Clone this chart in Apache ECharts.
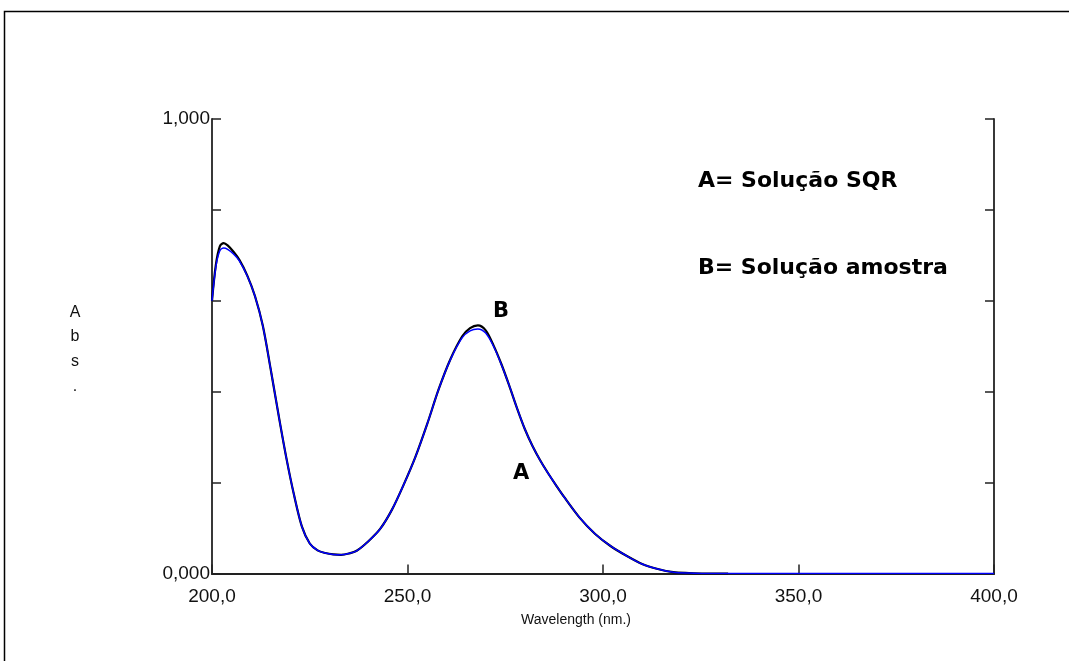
<!DOCTYPE html>
<html>
<head>
<meta charset="utf-8">
<script src="https://cdn.jsdelivr.net/npm/echarts@6/dist/echarts.min.js"></script>
<style>html,body{margin:0;padding:0;background:#fff;}#c{width:1069px;height:661px;}</style>
</head>
<body>
<div id="c"></div>
<script>
// Wavelength (nm)
const wavelengths = [200, 201, 202, 203, 204, 205.5, 207, 209, 211, 213, 215, 217, 219, 221, 223, 225, 227, 229, 231, 233, 235, 237, 240, 243, 246, 249, 252, 255, 258, 261, 264, 266, 268, 270, 272, 274, 276, 278, 280, 282, 284, 286, 288, 290, 294, 298, 302, 306, 310, 314, 318, 322, 326, 332, 340, 360, 380, 400];
// A = Solução SQR (blue)
const absA = [0.600, 0.675, 0.710, 0.716, 0.713, 0.703, 0.688, 0.655, 0.610, 0.545, 0.450, 0.350, 0.255, 0.172, 0.103, 0.066, 0.051, 0.045, 0.042, 0.041, 0.044, 0.050, 0.071, 0.098, 0.140, 0.195, 0.256, 0.328, 0.406, 0.471, 0.519, 0.534, 0.538, 0.529, 0.500, 0.460, 0.414, 0.364, 0.318, 0.280, 0.248, 0.220, 0.194, 0.169, 0.123, 0.087, 0.060, 0.039, 0.021, 0.010, 0.003, 0.001, 0, 0, 0, 0, 0, 0];
// B = Solução amostra (black), recorded up to 332 nm
const absB = [0.600, 0.680, 0.720, 0.727, 0.722, 0.708, 0.690, 0.656, 0.610, 0.545, 0.450, 0.350, 0.255, 0.172, 0.103, 0.066, 0.051, 0.045, 0.042, 0.041, 0.044, 0.050, 0.071, 0.098, 0.140, 0.195, 0.256, 0.328, 0.406, 0.472, 0.522, 0.540, 0.546, 0.535, 0.502, 0.461, 0.414, 0.364, 0.318, 0.280, 0.248, 0.220, 0.194, 0.169, 0.123, 0.087, 0.060, 0.039, 0.021, 0.010, 0.003, 0.001, 0, 0];
const xTicks = [200, 250, 300, 350, 400];
const yTickLabels = {0: '0,000', 1: '1,000'};
const legendLines = ['A= Solução SQR', 'B= Solução amostra'];
const curveLabels = ['A', 'B'];
const yName = ['A', 'b', 's', '.'];
const xName = 'Wavelength (nm.)';

const seriesA = wavelengths.map((w, i) => [w, absA[i]]);
const seriesB = absB.map((v, i) => [wavelengths[i], v]);

const chart = echarts.init(document.getElementById('c'), null, {renderer: 'canvas'});
const thinFont = 'Liberation Sans';
const boldFont = 'DejaVu Sans';
const axisCol = '#222';

const option = {
  animation: false,
  backgroundColor: '#fff',
  grid: {left: 212, right: 75, top: 119, bottom: 87.5, containLabel: false},
  xAxis: [{
    type: 'value', min: 200, max: 400, interval: 50,
    axisLine: {show: true, onZero: false, lineStyle: {color: axisCol, width: 1.8}},
    axisTick: {show: true, inside: true, length: 9, lineStyle: {color: axisCol, width: 1.5}},
    axisLabel: {margin: 14, fontFamily: thinFont, fontSize: 19, color: '#111',
      formatter: v => xTicks.indexOf(v) >= 0 ? v.toFixed(1).replace('.', ',') : ''},
    splitLine: {show: false}
  }, {
    type: 'value', min: 200, max: 400, position: 'top',
    axisLine: {show: true, lineStyle: {color: axisCol, width: 1.8}},
    axisTick: {show: false}, axisLabel: {show: false}, splitLine: {show: false}
  }],
  yAxis: [{
    type: 'value', min: 0, max: 1, interval: 0.2,
    axisLine: {show: true, onZero: false, lineStyle: {color: axisCol, width: 1.8}},
    axisTick: {show: true, inside: true, length: 9, lineStyle: {color: axisCol, width: 1.5}},
    axisLabel: {margin: 2, fontFamily: thinFont, fontSize: 19, color: '#111', padding: [0, 0, 5, 0],
      formatter: v => (yTickLabels[v] !== undefined ? yTickLabels[v] : '')},
    splitLine: {show: false}
  }, {
    type: 'value', min: 0, max: 1, interval: 0.2, position: 'right',
    axisLine: {show: true, lineStyle: {color: axisCol, width: 1.8}},
    axisTick: {show: true, inside: true, length: 9, lineStyle: {color: axisCol, width: 1.5}},
    axisLabel: {show: false}, splitLine: {show: false}
  }],
  series: [{
    name: 'B', type: 'line', data: seriesB, smooth: 0.3, showSymbol: false,
    lineStyle: {color: '#000', width: 2.2}, z: 2
  }, {
    name: 'A', type: 'line', data: seriesA, smooth: 0.3, showSymbol: false,
    lineStyle: {color: '#0000ff', width: 1.5}, z: 3
  }],
  graphic: [
    {type: 'rect', shape: {x: 4.5, y: 11.5, width: 1100, height: 700}, style: {fill: 'none', stroke: '#000', lineWidth: 1.5}, silent: true},
    {type: 'text', left: 698, top: 183 - 13, style: {text: legendLines[0], font: 'bold 22px "' + boldFont + '"', fill: '#000'}},
    {type: 'text', left: 698, top: 270 - 13, style: {text: legendLines[1], font: 'bold 22px "' + boldFont + '"', fill: '#000'}},
    {type: 'text', left: 513, top: 476 - 13, style: {text: curveLabels[0], font: 'bold 21px "' + boldFont + '"', fill: '#000'}},
    {type: 'text', left: 493, top: 314 - 13, style: {text: curveLabels[1], font: 'bold 21px "' + boldFont + '"', fill: '#000'}},
    {type: 'text', left: 521, top: 613, style: {text: xName, font: '14px "' + thinFont + '"', fill: '#111'}}
  ].concat(yName.map((ch, i) => ({
    type: 'text', x: 75, y: [313, 337, 362, 387][i],
    style: {text: ch, font: '16px "' + thinFont + '"', fill: '#111', textAlign: 'center', textVerticalAlign: 'middle'}
  })))
};
chart.setOption(option);
</script>
</body>
</html>
